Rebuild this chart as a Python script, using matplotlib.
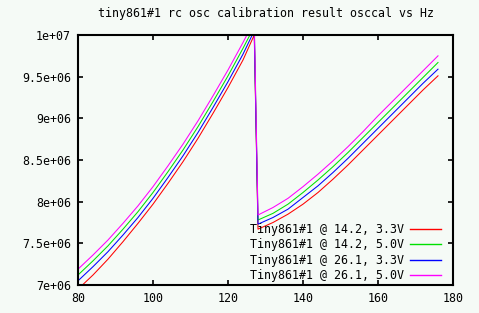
import matplotlib
matplotlib.use("Agg")
import matplotlib.pyplot as plt
from matplotlib.ticker import FixedLocator, FuncFormatter

# ---- data ----
osccal_low = [80, 84, 88, 92, 96, 100, 104, 108, 112, 116, 120, 124, 127]
osccal_high = [128, 132, 136, 140, 144, 148, 152, 156, 160, 164, 168, 172, 176]
osccal = osccal_low + osccal_high

hz_142_33 = [6.95, 7.12, 7.31, 7.52, 7.74, 7.97, 8.22, 8.48, 8.76, 9.06, 9.37, 9.70, 10.00,
             7.67, 7.75, 7.85, 7.97, 8.11, 8.27, 8.44, 8.62, 8.80, 8.98, 9.16, 9.34, 9.51]
hz_142_50 = [7.12, 7.29, 7.47, 7.67, 7.88, 8.11, 8.36, 8.62, 8.90, 9.20, 9.51, 9.84, 10.10,
             7.78, 7.86, 7.97, 8.11, 8.26, 8.42, 8.59, 8.77, 8.95, 9.13, 9.31, 9.49, 9.67]
hz_261_33 = [7.05, 7.22, 7.40, 7.60, 7.81, 8.04, 8.29, 8.55, 8.83, 9.13, 9.44, 9.77, 10.05,
             7.73, 7.81, 7.91, 8.05, 8.19, 8.35, 8.52, 8.70, 8.88, 9.06, 9.24, 9.42, 9.59]
hz_261_50 = [7.19, 7.36, 7.54, 7.74, 7.95, 8.18, 8.43, 8.69, 8.97, 9.27, 9.58, 9.91, 10.17,
             7.84, 7.93, 8.04, 8.18, 8.33, 8.49, 8.66, 8.84, 9.03, 9.21, 9.39, 9.57, 9.75]

series = [
    ("Tiny861#1 @ 14.2, 3.3V", hz_142_33, "#ff0000"),
    ("Tiny861#1 @ 14.2, 5.0V", hz_142_50, "#00e000"),
    ("Tiny861#1 @ 26.1, 3.3V", hz_261_33, "#0000ff"),
    ("Tiny861#1 @ 26.1, 5.0V", hz_261_50, "#ff00ff"),
]

x_ticks = [80, 100, 120, 140, 160, 180]
y_ticks = [7.0e6, 7.5e6, 8.0e6, 8.5e6, 9.0e6, 9.5e6, 1.0e7]
title = "tiny861#1 rc osc calibration result osccal vs Hz"

# ---- figure ----
W, H = 479, 313
bg = "#f5faf6"
plt.rcParams["font.family"] = ["DejaVu Sans Mono"]
plt.rcParams["font.size"] = 8.4

fig = plt.figure(figsize=(W / 100, H / 100), dpi=100, facecolor=bg)
L, R, T, B = 78, 453, 35, 285
ax = fig.add_axes([L / W, (H - B) / H, (R - L) / W, (B - T) / H], facecolor=bg)

for label, vals, color in series:
    ax.plot(osccal, [v * 1e6 for v in vals], color=color, lw=0.75,
            label=label)

ax.set_xlim(80, 180)
ax.set_ylim(7e6, 1e7)
ax.xaxis.set_major_locator(FixedLocator(x_ticks))
ax.yaxis.set_major_locator(FixedLocator(y_ticks))
ax.xaxis.set_major_formatter(FuncFormatter(lambda v, p: f"{v:g}"))
ax.yaxis.set_major_formatter(FuncFormatter(lambda v, p: f"{v:g}"))
ax.tick_params(direction="in", length=3.5, width=1.2, top=True, right=True,
               labelsize=8.4, pad=5, colors="black")
for s in ax.spines.values():
    s.set_linewidth(1.5)
    s.set_color("black")

fig.text((L + R) / 2 / W, 1 - 14 / H, title, ha="center", va="center", fontsize=8.4)

leg = ax.legend(loc="lower right", bbox_to_anchor=(441 / W, (H - 282) / H),
                bbox_transform=fig.transFigure, frameon=False, markerfirst=False,
                handlelength=2.7, handletextpad=0.5, labelspacing=0.2,
                borderpad=0, borderaxespad=0, fontsize=8.4)
for line in leg.get_lines():
    line.set_linewidth(1.0)

fig.savefig("out.png", dpi=100, facecolor=bg)
